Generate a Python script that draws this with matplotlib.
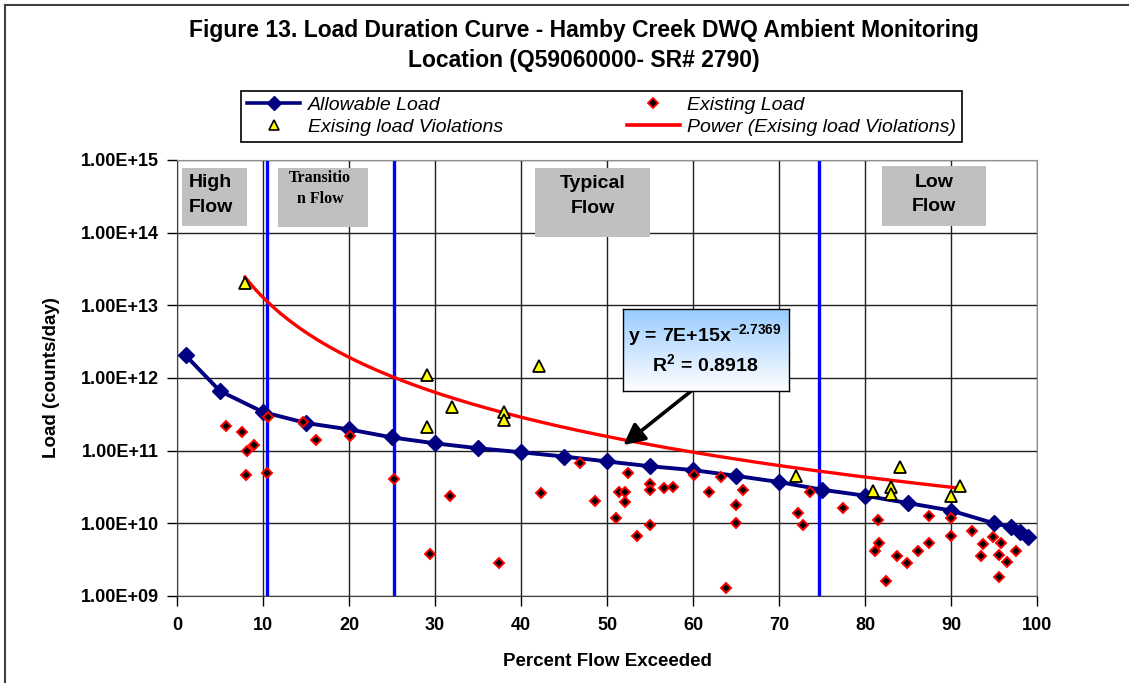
import numpy as np
import matplotlib.pyplot as plt
from matplotlib.lines import Line2D
from matplotlib.patches import Rectangle
from matplotlib.colors import LinearSegmentedColormap
from matplotlib.ticker import FuncFormatter, NullLocator

plt.rcParams['font.family'] = ['Liberation Sans', 'DejaVu Sans']
plt.rcParams['mathtext.fontset'] = 'custom'
plt.rcParams['mathtext.rm'] = 'Liberation Sans'
plt.rcParams['mathtext.bf'] = 'Liberation Sans:bold'
plt.rcParams['mathtext.it'] = 'Liberation Sans:italic'

# allowable load curve
allow_pct = [1, 5, 10, 15, 20, 25, 30, 35, 40, 45, 50, 55, 60, 65, 70, 75, 80, 85, 90, 95, 97, 98, 99]
allow_load = [2.04e12, 6.6e11, 3.4e11, 2.4e11, 1.96e11, 1.52e11, 1.26e11, 1.08e11, 9.5e10, 8.3e10,
              7.1e10, 6.1e10, 5.4e10, 4.5e10, 3.7e10, 2.9e10, 2.4e10, 1.9e10, 1.5e10, 1.0e10,
              8.9e9, 7.6e9, 6.5e9]

# existing load samples
exist_pct = [5.7, 7.5, 8.1, 9.0, 8.0, 10.6, 10.5, 14.7, 16.2, 20.1, 25.2, 29.4, 31.7, 37.4, 42.3,
             46.9, 48.6, 51.0, 51.4, 52.1, 52.4, 52.1, 53.5, 55.0, 55.0, 55.0, 56.6, 57.7, 60.1,
             61.9, 63.3, 63.8, 65.0, 65.0, 65.8, 72.2, 72.8, 73.6, 77.4, 81.5, 81.6, 81.2, 82.4,
             83.7, 84.9, 86.2, 87.5, 87.5, 90.0, 90.0, 92.4, 93.7, 93.5, 94.9, 95.8, 95.6, 96.5,
             95.6, 97.6]
exist_load = [2.2e11, 1.8e11, 1.0e11, 1.2e11, 4.6e10, 2.9e11, 5.0e10, 2.5e11, 1.4e11, 1.6e11,
              4.1e10, 3.8e9, 2.4e10, 2.8e9, 2.6e10, 6.7e10, 2.0e10, 1.2e10, 2.7e10, 2.7e10,
              4.9e10, 1.95e10, 6.6e9, 3.5e10, 2.9e10, 9.5e9, 3.1e10, 3.2e10, 4.6e10, 2.7e10,
              4.3e10, 1.3e9, 1.8e10, 1.0e10, 2.9e10, 1.4e10, 9.5e9, 2.7e10, 1.6e10, 1.1e10,
              5.3e9, 4.2e9, 1.6e9, 3.5e9, 2.8e9, 4.2e9, 5.3e9, 1.25e10, 1.2e10, 6.6e9, 7.8e9,
              5.2e9, 3.6e9, 6.5e9, 5.3e9, 3.7e9, 2.9e9, 1.8e9, 4.2e9]

# samples above the allowable load
viol_pct = [7.9, 29.1, 29.1, 32.0, 38.0, 38.0, 42.1, 72.0, 80.9, 83.0, 83.0, 84.1, 90.0, 91.0]
viol_load = [2.05e13, 1.09e12, 2.1e11, 4.0e11, 3.4e11, 2.6e11, 1.44e12, 4.5e10, 2.8e10, 3.2e10,
             2.5e10, 5.9e10, 2.4e10, 3.3e10]

# power trendline shown in the chart
trend_a = 7e15
trend_b = -2.7369
r_squared = 0.8918

zone_breaks = [10.5, 25.2, 74.7]


def main():
    fig = plt.figure(figsize=(11.29, 6.83), dpi=100)
    ax = fig.add_axes([0.1568, 0.1274, 0.7617, 0.6384])

    ax.set_yscale('log')
    ax.set_xlim(0, 100)
    ax.set_ylim(1e9, 1e15)
    ax.set_xticks(range(0, 101, 10))
    ax.set_yticks([10.0 ** k for k in range(9, 16)])
    ax.yaxis.set_minor_locator(NullLocator())
    ax.yaxis.set_major_formatter(FuncFormatter(lambda v, p: f'{v:.2E}'))
    ax.tick_params(direction='out', length=7, width=1, pad=6, labelsize=13)
    ax.tick_params(axis='x', pad=8)
    for lab in ax.get_xticklabels() + ax.get_yticklabels():
        lab.set_fontweight('bold')
    ax.grid(True, which='major', color='#202020', lw=1)
    ax.set_axisbelow(True)
    for s in ['top', 'right']:
        ax.spines[s].set_color('#909090')
    for s in ['left', 'bottom']:
        ax.spines[s].set_color('#404040')

    for xb in zone_breaks:
        ax.axvline(xb, color='#0000ff', lw=2.4, zorder=2)

    ax.plot(allow_pct, allow_load, color='#000080', lw=2.8, marker='D', ms=8.5,
            mfc='#000080', mec='#000080', zorder=3)
    ax.plot(exist_pct, exist_load, ls='none', marker='D', ms=5.5, mfc='black',
            mec='#ff0000', mew=1.4, zorder=4)
    xs = np.linspace(min(viol_pct), max(viol_pct), 200)
    ax.plot(xs, trend_a * xs ** trend_b, color='#ff0000', lw=2.4, zorder=5)
    ax.plot(viol_pct, viol_load, ls='none', marker='^', ms=9, mfc='#ffff00',
            mec='black', mew=1.3, zorder=6)

    ax.set_xlabel('Percent Flow Exceeded', fontsize=13.5, fontweight='bold', labelpad=14)
    ax.set_ylabel('Load (counts/day)', fontsize=13.5, fontweight='bold', labelpad=15)

    # flow zone labels: box origin, width, height, text, text x, text y, align, style
    zones = [
        ((0.006, 0.849), 0.075, 0.133, 'High\nFlow', 0.014, 0.919, 'left', 'sans'),
        ((0.117, 0.846), 0.105, 0.136, 'Transitio\nn Flow', 0.1665, 0.934, 'center', 'serif'),
        ((0.416, 0.823), 0.134, 0.159, 'Typical\nFlow', 0.483, 0.917, 'center', 'sans'),
        ((0.820, 0.849), 0.121, 0.137, 'Low\nFlow', 0.880, 0.921, 'center', 'sans'),
    ]
    for (x0, y0), w, h, txt, tx, ty, ha, kind in zones:
        ax.add_patch(Rectangle((x0, y0), w, h, transform=ax.transAxes,
                               facecolor='#c0c0c0', edgecolor='none', zorder=7))
        if kind == 'serif':
            ax.text(tx, ty, txt, transform=ax.transAxes, ha=ha, va='center',
                    fontsize=11.5, fontweight='bold', family='Liberation Serif',
                    linespacing=1.4, zorder=8)
        else:
            ax.text(tx, ty, txt, transform=ax.transAxes, ha=ha, va='center',
                    fontsize=14, fontweight='bold', linespacing=1.6, zorder=8)

    # trendline equation box
    bax = fig.add_axes([0.552, 0.4275, 0.147, 0.120])
    grad = np.linspace(0, 1, 100).reshape(-1, 1)
    cmap = LinearSegmentedColormap.from_list('box', ['#99ccff', '#ffffff'])
    bax.imshow(grad, aspect='auto', cmap=cmap, extent=[0, 1, 0, 1])
    bax.set_xticks([])
    bax.set_yticks([])
    for s in bax.spines.values():
        s.set_color('black')
        s.set_linewidth(1)
    coef = f'{trend_a:.0E}'.replace('+', '{+}')
    eq = r'$\mathbf{y\,=\,' + coef + 'x^{' + f'{trend_b:g}' + '}}$'
    fig.text(0.6245, 0.509, eq, ha='center', va='center', fontsize=14)
    fig.text(0.6245, 0.467, r'$\mathbf{R^2\,=\,' + f'{r_squared:g}' + '}$',
             ha='center', va='center', fontsize=14)
    ax.annotate('', xy=(0.519, 0.346), xytext=(0.601, 0.475), xycoords='axes fraction',
                arrowprops=dict(arrowstyle='-|>', color='black', lw=2.6, mutation_scale=32,
                                shrinkA=0, shrinkB=0), zorder=9, annotation_clip=False)

    # title
    fig.text(0.517, 0.955, 'Figure 13. Load Duration Curve - Hamby Creek DWQ Ambient Monitoring',
             ha='center', va='center', fontsize=16.5, fontweight='bold')
    fig.text(0.517, 0.912, 'Location (Q59060000- SR# 2790)',
             ha='center', va='center', fontsize=16.5, fontweight='bold')

    # legend
    handles = [
        Line2D([], [], color='#000080', lw=2.6, marker='D', ms=7, mfc='#000080'),
        Line2D([], [], ls='none', marker='^', ms=7, mfc='#ffff00', mec='black', mew=1.2),
        Line2D([], [], ls='none', marker='D', ms=5, mfc='black', mec='#ff0000', mew=1.3),
        Line2D([], [], color='#ff0000', lw=2.6),
    ]
    labels = ['Allowable Load', 'Exising load Violations', 'Existing Load',
              'Power (Exising load Violations)']
    leg = fig.legend(handles, labels, ncol=2, loc='center', bbox_to_anchor=(0.533, 0.830),
                     frameon=True, fancybox=False, edgecolor='black', framealpha=1,
                     prop={'style': 'italic', 'size': 14}, handlelength=2.7,
                     columnspacing=6.4, labelspacing=0.22, borderpad=0.3, handletextpad=0.4)
    leg.get_frame().set_linewidth(1.2)

    # outer chart border
    fig.add_artist(Line2D([0.0045, 0.0045], [0, 0.993], color='#404040', lw=1.5))
    fig.add_artist(Line2D([0.0045, 1], [0.993, 0.993], color='#404040', lw=1.5))

    fig.savefig('out.png', dpi=100)


if __name__ == "__main__":
    main()
